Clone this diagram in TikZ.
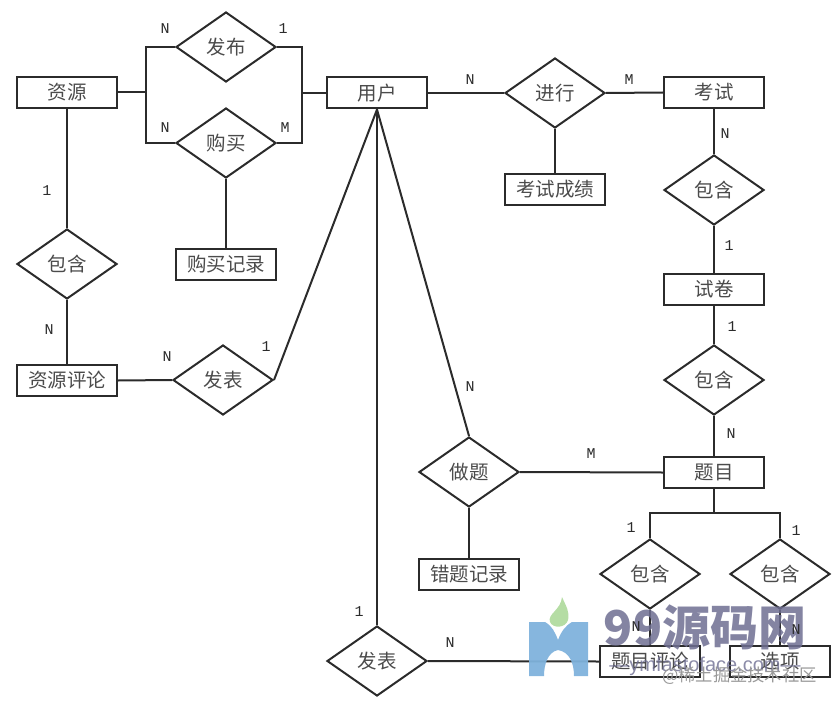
\documentclass[tikz,border=0pt]{standalone}
\usepackage{fontspec}
\setmainfont{Liberation Mono}
\newfontfamily\cjk{Noto Sans CJK SC}[Scale=1]
\newfontfamily\wmlat{Liberation Sans}
\usetikzlibrary{shapes.geometric}
\definecolor{ink}{HTML}{2B2B2B}
\definecolor{wmtext}{HTML}{6E6E92}
\definecolor{wmblue}{HTML}{7FB2DC}
\definecolor{wmgreen}{HTML}{B5DDA4}
\tikzset{
  ent/.style={draw=ink,line width=2pt,minimum width=100pt,minimum height=31pt,inner sep=0pt,font=\cjk\fontsize{19.5}{19.5}\selectfont,text=ink!85},
  rel/.style={draw=ink,line width=2pt,diamond,aspect=1.43,minimum width=100pt,minimum height=70pt,inner sep=0pt,font=\cjk\fontsize{19.5}{19.5}\selectfont,text=ink!85},
  lnk/.style={draw=ink,line width=2pt},
  card/.style={font=\fontsize{15}{15}\selectfont,text=ink,inner sep=0pt}
}
\begin{document}
\begin{tikzpicture}[x=1pt,y=-1pt]
\useasboundingbox (0,0) rectangle (837,706);
% entities
\node[ent] (zy) at (67,92.5) {资源};
\node[ent] (yh) at (377,93) {用户};
\node[ent] (ks) at (714,92.5) {考试};
\node[ent] (kscj) at (555,189.5) {考试成绩};
\node[ent] (sj) at (714,289.5) {试卷};
\node[ent] (gmjl) at (226,264.5) {购买记录};
\node[ent] (zypl) at (67,380.5) {资源评论};
\node[ent] (tm) at (714,472.5) {题目};
\node[ent] (ctjl) at (469,574.5) {错题记录};
\node[ent] (tmpl) at (650,661.5) {题目评论};
\node[ent] (xx) at (780,661.5) {选项};
% relationships
\node[rel] (fb) at (226,47) {发布};
\node[rel] (gm) at (226,143) {购买};
\node[rel] (jx) at (555,93) {进行};
\node[rel] (bh1) at (714,190) {包含};
\node[rel] (bh2) at (67,264) {包含};
\node[rel] (fb1) at (223,380) {发表};
\node[rel] (bh3) at (714,380) {包含};
\node[rel] (zt) at (469,472) {做题};
\node[rel] (bh4) at (650,574) {包含};
\node[rel] (bh5) at (780,574) {包含};
\node[rel] (fb2) at (377,661) {发表};
% junction points
\coordinate (jl) at (146,92.5);
\coordinate (jr) at (302,93);
\coordinate (jt) at (714,513);
% connectors
\draw[lnk] (zy.east) -- (jl);
\draw[lnk] (fb.west) -| (jl);
\draw[lnk] (gm.west) -| (jl);
\draw[lnk] (fb.east) -| (jr);
\draw[lnk] (gm.east) -| (jr);
\draw[lnk] (jr) -- (yh.west);
\draw[lnk] (yh.east) -- (jx.west);
\draw[lnk] (jx.east) -- (ks.west);
\draw[lnk] (jx.south) -- (kscj.north);
\draw[lnk] (ks.south) -- (bh1.north);
\draw[lnk] (bh1.south) -- (sj.north);
\draw[lnk] (sj.south) -- (bh3.north);
\draw[lnk] (bh3.south) -- (tm.north);
\draw[lnk] (gm.south) -- (gmjl.north);
\draw[lnk] (zy.south) -- (bh2.north);
\draw[lnk] (bh2.south) -- (zypl.north);
\draw[lnk] (zypl.east) -- (fb1.west);
\draw[lnk] (fb1.east) -- (yh.south);
\draw[lnk] (yh.south) -- (zt.north);
\draw[lnk] (yh.south) -- (fb2.north);
\draw[lnk] (zt.east) -- (tm.west);
\draw[lnk] (zt.south) -- (ctjl.north);
\draw[lnk] (tm.south) -- (jt);
\draw[lnk] (bh4.north) |- (jt);
\draw[lnk] (bh5.north) |- (jt);
\draw[lnk] (bh4.south) -- (tmpl.north);
\draw[lnk] (bh5.south) -- (xx.north);
\draw[lnk] (fb2.east) -- (tmpl.west);
% watermark
\fill[wmblue,opacity=.95] (529,622) -- (545,622) .. controls (552,626) and (555,632) .. (558,640) .. controls (561,632) and (565,626) .. (572,622) -- (588,622) -- (588,676) -- (574,676) .. controls (574,664) and (570,652) .. (558,650) .. controls (548,652) and (544,664) .. (544,676) -- (529,676) -- cycle;
\fill[wmgreen] (562,597) .. controls (566,606) and (570,612) .. (568,620) .. controls (566,628) and (553,629) .. (550,622) .. controls (547,614) and (561,610) .. (562,597) -- cycle;
\node[inner sep=0pt,text=wmtext,opacity=.85,font=\cjk\bfseries\fontsize{48}{48}\selectfont] (wm) at (705,627) {99源码网};
\node[inner sep=0pt,text=wmtext,opacity=.8,font=\wmlat\fontsize{20}{20}\selectfont] (wm2) at (705,666) {—ymfastoface.com—};
\node[inner sep=0pt,text=gray!80,font=\cjk\fontsize{17.3}{17.3}\selectfont,anchor=east] (wm3) at (817,676) {@稀土掘金技术社区};
% cardinalities
\node[card] (c1) at (165,29) {N};
\node[card] (c2) at (283,29) {1};
\node[card] (c3) at (165,128) {N};
\node[card] (c4) at (285,128) {M};
\node[card] (c5) at (470,80) {N};
\node[card] (c6) at (629,80) {M};
\node[card] (c7) at (725,134) {N};
\node[card] (c8) at (729,246) {1};
\node[card] (c9) at (732,327) {1};
\node[card] (c10) at (731,434) {N};
\node[card] (c11) at (47,191) {1};
\node[card] (c12) at (49,330) {N};
\node[card] (c13) at (167,357) {N};
\node[card] (c14) at (266,347) {1};
\node[card] (c15) at (470,387) {N};
\node[card] (c16) at (591,454) {M};
\node[card] (c17) at (631,528) {1};
\node[card] (c18) at (796,531) {1};
\node[card] (c19) at (636,627) {N};
\node[card] (c20) at (796,630) {N};
\node[card] (c21) at (359,612) {1};
\node[card] (c22) at (450,643) {N};
\end{tikzpicture}
\end{document}
